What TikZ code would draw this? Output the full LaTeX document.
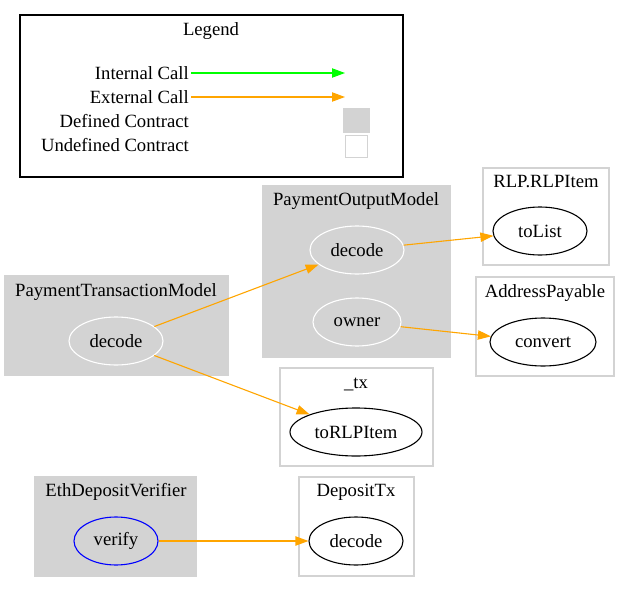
\documentclass[tikz,border=0pt]{standalone}
\usepackage{fontspec}
\setmainfont{Liberation Serif}
\usetikzlibrary{shapes.geometric,arrows.meta}
\definecolor{lgray}{HTML}{D3D3D3}
\definecolor{orng}{HTML}{FFA500}
\definecolor{grn}{HTML}{00FF00}
\begin{document}
\begin{tikzpicture}[x=1pt,y=-1pt,
  every node/.style={font=\fontsize{18.67pt}{21pt}\selectfont, inner sep=0pt},
  defcl/.style={fill=lgray, draw=lgray, line width=1.1pt},
  undefcl/.style={fill=white, draw=lgray, line width=1.1pt},
  fn/.style={ellipse, draw=white, line width=1.1pt, minimum height=48pt},
  ext/.style={ellipse, draw=black, line width=1.1pt, minimum height=48pt},
  call/.style={draw=orng, line width=1.1pt, -{Triangle[length=13pt,width=9.3pt]}},
  icall/.style={draw=grn, line width=1.1pt, -{Triangle[length=13pt,width=9.3pt]}}]
\useasboundingbox (0,0) rectangle (622,592);
% Legend
\draw[line width=1.1pt] (20,15) rectangle (403,177);
\node (lt) at (211,31) {Legend};
\node[anchor=east] (l1) at (189,73) {Internal Call};
\node[anchor=east] (l2) at (189,97) {External Call};
\node[anchor=east] (l3) at (189,121) {Defined Contract};
\node[anchor=east] (l4) at (189,145) {Undefined Contract};
\coordinate (e1) at (345,73);
\coordinate (e2) at (345,97);
\draw[icall] (l1.east) ++(2,0) -- (e1);
\draw[call] (l2.east) ++(2,0) -- (e2);
\node[defcl, minimum width=26pt, minimum height=23pt] (sq1) at (356.5,120.5) {};
\node[undefcl, minimum width=22pt, minimum height=22pt] (sq2) at (356.5,146.5) {};
% Clusters
\draw[defcl] (263,186) rectangle (450,357);
\node (t1) at (356,201) {PaymentOutputModel};
\draw[undefcl] (483,168) rectangle (609,265);
\node (t2) at (546,182) {RLP.RLPItem};
\draw[undefcl] (476,277) rectangle (614,376);
\node (t3) at (545,293) {AddressPayable};
\draw[defcl] (5,276) rectangle (228,375);
\node (t4) at (116,292) {PaymentTransactionModel};
\draw[undefcl] (280,368) rectangle (433,466);
\node (t5) at (356,384) {\_tx};
\draw[defcl] (35,477) rectangle (196,576);
\node (t6) at (116,492) {EthDepositVerifier};
\draw[undefcl] (299,477) rectangle (414,576);
\node (t7) at (356,492) {DepositTx};
% Nodes
\node[fn, minimum width=94pt] (pomdecode) at (357,250) {decode};
\node[fn, minimum width=88pt] (owner) at (357,322) {owner};
\node[ext, minimum width=94pt] (tolist) at (540,231) {toList};
\node[ext, minimum width=106pt] (convert) at (543,342) {convert};
\node[fn, minimum width=94pt] (ptmdecode) at (116,341) {decode};
\node[ext, minimum width=132pt] (torlp) at (356,432) {toRLPItem};
\node[fn, draw=blue, minimum width=84pt] (verify) at (116,541) {verify};
\node[ext, minimum width=94pt] (dtdecode) at (356,541) {decode};
% Edges
\draw[call] (ptmdecode) -- (pomdecode);
\draw[call] (pomdecode) -- (tolist);
\draw[call] (owner) -- (convert);
\draw[call] (ptmdecode) -- (torlp);
\draw[call] (verify) -- (dtdecode);
\end{tikzpicture}
\end{document}
